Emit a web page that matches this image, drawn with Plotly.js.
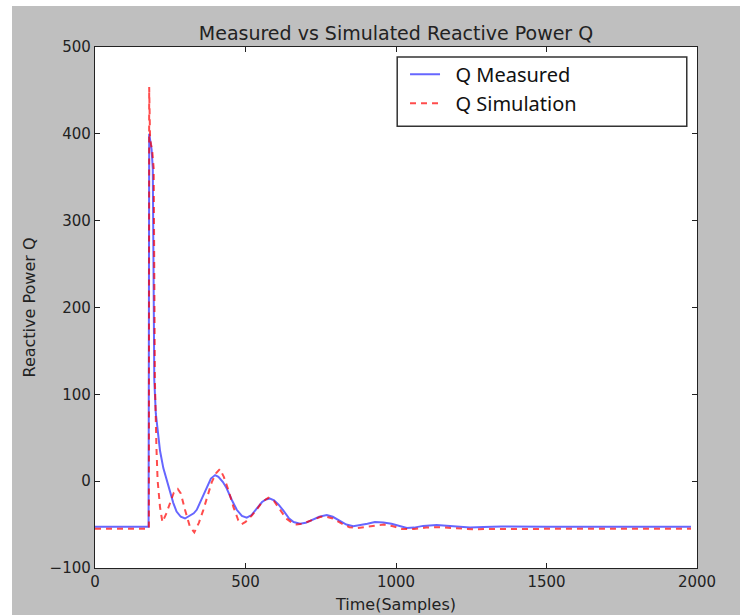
<!DOCTYPE html>
<html>
<head>
<meta charset="utf-8">
<script src="https://cdn.plot.ly/plotly-3.0.1.min.js"></script>
<style>
  html, body { margin: 0; padding: 0; background: #ffffff; width: 740px; height: 615px; overflow: hidden; }
  #chart { position: absolute; left: 12px; top: 6px; width: 728px; height: 609px; }
</style>
</head>
<body>
<div id="chart"></div>
<script>
// Measured reactive power Q (blue, solid)
const sampleMeasured = [0, 100, 177, 178, 180, 184, 188, 192, 194, 197, 202, 208, 216, 227, 238, 250, 260, 271, 285, 299, 315, 328, 338, 355, 371, 385, 399, 410, 425, 437, 455, 471, 488, 504, 520, 537, 555, 568, 581, 595, 610, 626, 645, 660, 681, 700, 720, 745, 770, 790, 815, 835, 858, 880, 905, 930, 958, 985, 1010, 1036, 1060, 1090, 1135, 1180, 1215, 1246, 1290, 1350, 1500, 1700, 1980];
const qMeasured = [-52.5, -52.5, -52.5, -52.5, 400, 390, 382, 360, 200, 116, 78, 58, 35, 15, 1, -14, -25, -35, -41, -43, -40, -37, -33, -20, -6, 3, 7, 5, -1, -8, -22, -33, -40, -42, -39, -32, -24, -21, -20, -22, -27, -34, -43, -47, -49, -48, -45, -41, -39, -41, -46, -50, -52, -51, -49, -47, -47.5, -49, -51.5, -54, -53.5, -51.5, -50.5, -51.5, -53, -53.5, -52.8, -52.3, -52.5, -52.5, -52.5];

// Simulated reactive power Q (red, dashed)
const sampleSim = [0, 100, 178, 179, 180, 183, 186, 190, 195, 197, 199, 204, 208, 216, 224, 236, 249, 262, 275, 285, 299, 315, 330, 345, 360, 375, 388, 402, 415, 428, 443, 460, 476, 487, 500, 520, 537, 555, 576, 595, 615, 635, 655, 670, 690, 720, 750, 770, 790, 820, 845, 869, 895, 925, 960, 990, 1020, 1060, 1100, 1140, 1180, 1220, 1260, 1300, 1500, 1700, 1980];
const qSim = [-54.7, -54.7, -54.7, -54.7, 454, 395, 388, 381, 360, 250, 116, 40, 1, -30, -47, -38, -25, -13, -9, -14, -33, -52, -59, -48, -33, -15, -1, 9, 14, 5, -10, -30, -45, -49.5, -47, -40, -33, -24, -19, -23, -33, -43, -48, -50, -49, -45, -41, -41, -43, -49, -53, -54, -53, -51, -50, -52, -55, -55, -53.5, -53, -54, -55, -55.5, -55, -54.8, -54.8, -54.8];

const xTicks = [0, 500, 1000, 1500, 2000];
const yTicks = [-100, 0, 100, 200, 300, 400, 500];

const font = "DejaVu Sans, sans-serif";

const traces = [
  {
    x: sampleMeasured, y: qMeasured, type: "scatter", mode: "lines",
    name: "\u00a0\u00a0Q Measured",
    line: { color: "rgba(0,0,255,0.6)", width: 2 }
  },
  {
    x: sampleSim, y: qSim, type: "scatter", mode: "lines",
    name: "\u00a0\u00a0Q Simulation",
    line: { color: "rgba(255,0,0,0.7)", width: 2, dash: "6px,5px" }
  }
];

const axisCommon = {
  showgrid: false, zeroline: false, showline: true, linecolor: "#222222", linewidth: 1.2,
  mirror: "allticks", ticks: "inside", ticklen: 5, tickcolor: "#222222", tickwidth: 1,
  tickfont: { family: font, size: 15, color: "#222222" }
};

const layout = {
  width: 728, height: 609,
  paper_bgcolor: "#bfbfbf", plot_bgcolor: "#ffffff",
  margin: { l: 83, r: 43, t: 41, b: 47 },
  title: {
    text: "Measured vs Simulated Reactive Power Q",
    font: { family: font, size: 19, color: "#222222" },
    x: 0.5, xref: "paper", xanchor: "center", y: 1, yref: "paper", yanchor: "bottom", pad: { b: 7 }
  },
  xaxis: Object.assign({}, axisCommon, {
    range: [0, 2000], tickvals: xTicks, ticktext: xTicks.map(String),
    title: { text: "Time(Samples)", font: { family: font, size: 16, color: "#222222" }, standoff: 8 }
  }),
  yaxis: Object.assign({}, axisCommon, {
    range: [-100, 500], tickvals: yTicks,
    title: { text: "Reactive Power Q", font: { family: font, size: 16, color: "#222222" }, standoff: 10 }
  }),
  showlegend: true,
  legend: {
    x: 0.515, y: 0.985, xanchor: "left", yanchor: "top",
    bgcolor: "rgba(0,0,0,0)", borderwidth: 0,
    font: { family: "Noto Sans, sans-serif", size: 20, color: "#111111" },
    tracegroupgap: 0
  },
  shapes: [
    { type: "rect", xref: "paper", yref: "paper", x0: 0.502, x1: 0.983, y0: 0.848, y1: 0.981,
      line: { color: "#333333", width: 1.5 }, fillcolor: "#ffffff", layer: "above" }
  ]
};

Plotly.newPlot("chart", traces, layout, { displayModeBar: false, staticPlot: true });
</script>
</body>
</html>
